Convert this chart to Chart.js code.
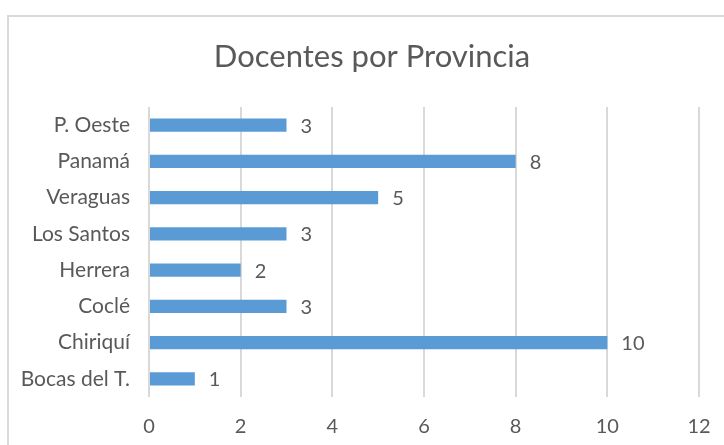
<!DOCTYPE html>
<html>
<head>
<meta charset="utf-8">
<script src="https://cdn.jsdelivr.net/npm/chart.js@4"></script>
<style>
  html, body { margin: 0; padding: 0; background: #fff; overflow: hidden; }
  #wrap { position: relative; width: 724px; height: 445px; }
  #frame { position: absolute; left: 7px; top: 15px; width: 800px; height: 500px; border: 2px solid #d9d9d9; box-sizing: border-box; }
  canvas { position: absolute; left: 0; top: 0; }
</style>
</head>
<body>
<div id="wrap">
  <div id="frame"></div>
  <canvas id="myChart" width="724" height="445"></canvas>
</div>
<script>
// datos del grafico
var titulo = 'Docentes por Provincia';
var provincias = ['P. Oeste', 'Panamá', 'Veraguas', 'Los Santos', 'Herrera', 'Coclé', 'Chiriquí', 'Bocas del T.'];
var docentes = [3, 8, 5, 3, 2, 3, 10, 1];
var ejeTicks = [0, 2, 4, 6, 8, 10, 12];

var gris = '#595959';
var fuente = 'Lato, "Open Sans", sans-serif';

// titulo centrado en el marco y etiquetas al final de cada barra
const etiquetas = {
    id: 'etiquetas',
    afterDatasetsDraw(chart) {
        const ctx = chart.ctx;
        const meta = chart.getDatasetMeta(0);
        ctx.save();
        ctx.fillStyle = gris;
        ctx.textBaseline = 'middle';
        ctx.textAlign = 'center';
        ctx.font = '31px ' + fuente;
        ctx.fillText(titulo, 372, 57);
        ctx.font = '20px ' + fuente;
        ctx.textAlign = 'left';
        meta.data.forEach((bar, i) => {
            ctx.fillText(String(docentes[i]), bar.x + 14, bar.y + 1);
        });
        ctx.restore();
    }
};

const data = {
    labels: provincias,
    datasets: [{
        label: 'Docentes',
        backgroundColor: '#5b9bd5',
        borderWidth: 0,
        data: docentes,
        categoryPercentage: 1,
        barPercentage: 0.36
    }]
};

const config = {
    type: 'bar',
    data,
    plugins: [etiquetas],
    options: {
        indexAxis: 'y',
        responsive: false,
        animation: false,
        layout: { padding: { left: 0, right: 25, top: 107, bottom: 0 } },
        plugins: {
            legend: { display: false },
            tooltip: { enabled: false },
            title: { display: false }
        },
        scales: {
            x: {
                min: 0,
                max: 12,
                afterBuildTicks: s => { s.ticks = ejeTicks.map(v => ({ value: v })); },
                afterFit: s => { s.height = 48; s.paddingLeft = 0; s.paddingRight = 0; },
                grid: { color: '#d9d9d9', lineWidth: 2, drawTicks: false },
                border: { display: false },
                ticks: { color: gris, padding: 18, font: { family: fuente, size: 20 } }
            },
            y: {
                afterFit: s => { s.width = 149; s.paddingTop = 0; s.paddingBottom = 0; },
                grid: { display: false, drawTicks: false },
                border: { display: false },
                ticks: { color: gris, padding: 19, font: { family: fuente, size: 21 } }
            }
        }
    }
};

var myChart = new Chart(document.getElementById('myChart'), config);
</script>
</body>
</html>
